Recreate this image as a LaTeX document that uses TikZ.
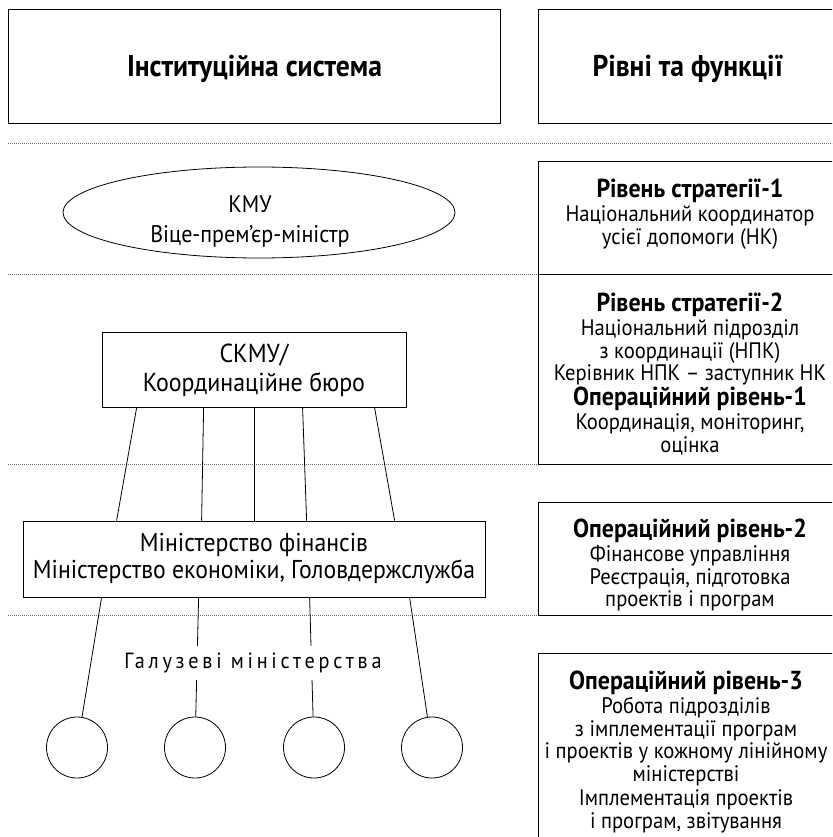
\documentclass[tikz,border=0pt]{standalone}
\usepackage{fontspec}
\setmainfont{PT Sans}[FakeStretch=0.92]
\usetikzlibrary{shapes.geometric}
\setlength{\lineskiplimit}{-30pt}

\tikzset{
  sepline/.style={dash pattern=on 0.8pt off 1.2pt, line width=0.8pt, black!55},
  frame/.style={draw, line width=1pt},
  txt/.style={align=center, inner sep=0pt, font=\fontsize{22.4}{22.5}\selectfont},
  headtxt/.style={inner sep=0pt, font=\fontsize{30}{32}\selectfont\bfseries},
  unit/.style={draw, line width=0.8pt, align=center, inner sep=0pt,
    font=\fontsize{26}{29}\selectfont},
  branch/.style={draw, circle, line width=0.8pt, minimum size=61pt, inner sep=0pt},
  tie/.style={line width=0.8pt},
}
\newcommand{\lvl}[1]{{\fontsize{26}{22.5}\selectfont\bfseries #1}}
\newcommand{\levelframe}[2]{\draw[frame] (538, #1) rectangle (850, #2);}
\newcommand{\sepat}[1]{\draw[sepline] (8, #1) -- (832, #1);}

\begin{document}
\begin{tikzpicture}[x=1pt, y=-1pt]
        \clip (0,0) rectangle (832,837);
        \fill[white] (0,0) rectangle (832,837);

        % headers
        \draw[frame] (8,10) rectangle (500,124);
        \levelframe{10}{124}
        \node[headtxt, anchor=base] (hleft) at (254.5,77) {Інституційна система};
        \node[headtxt, anchor=base] (hright) at (688,77) {Рівні та функції};

        % separators
        \sepat{143}
        \sepat{274}
        \sepat{464}
        \sepat{615}

        % right column
        \levelframe{162}{274}
        \levelframe{274}{464}
        \levelframe{502}{615}
        \levelframe{653}{850}

        \node[txt] (lv1) at (690,214) {\lvl{Рівень стратегії-1}\\[2pt]Національний координатор\\усієї допомоги (НК)};
        \node[txt] (lv2) at (690,374) {\lvl{Рівень стратегії-2}\\[2pt]Національний підрозділ\\з координації (НПК)\\Керівник НПК – заступник НК\\[2pt]\lvl{Операційний рівень-1}\\[2pt]Координація, моніторинг,\\оцінка};
        \node[txt] (lv3) at (690,565) {\lvl{Операційний рівень-2}\\[2pt]Фінансове управління\\Реєстрація, підготовка\\проектів і програм};
        \node[txt] (lv4) at (686,752) {\lvl{Операційний рівень-3}\\[2pt]Робота підрозділів\\з імплементації програм\\і проектів у кожному лінійному\\міністерстві\\[2pt]Імплементація проектів\\і програм, звітування};

        % left column
        \node[unit, ellipse, minimum width=392pt, minimum height=91pt] (kmu) at (259,212.5) {};
        \node[txt, font=\fontsize{24}{30}\selectfont] (kmutxt) at (250,221) {КМУ\\Віце-прем’єр-міністр};
        \node[unit, minimum width=304pt, minimum height=75pt] (skmu) at (254,370) {СКМУ/\\Координаційне бюро};
        \node[unit, minimum width=462pt, minimum height=76pt, font=\fontsize{25.8}{27}\selectfont] (mf) at (254,559) {Міністерство фінансів\\Міністерство економіки, Головдержслужба};

        \foreach \x [count=\i] in {77,195,314,432}
            \node[branch] (g\i) at (\x,747.5) {};

        % ties
        \foreach \a/\b in {35/94, 102/179, 153/232, 201/284, 273/372}
            \draw[tie] ([xshift=\a pt]skmu.south west) -- ([xshift=\b pt]mf.north west);
        \foreach \a [count=\i] in {79,176,287,387}
            \draw[tie] ([xshift=\a pt]mf.south west) -- (g\i);

        \node[txt, fill=white, inner xsep=4pt, inner ysep=7pt, font=\fontsize{22}{24}\selectfont\addfontfeature{LetterSpace=17}] (galuz) at (253,663) {Галузеві міністерства};
\end{tikzpicture}
\end{document}
